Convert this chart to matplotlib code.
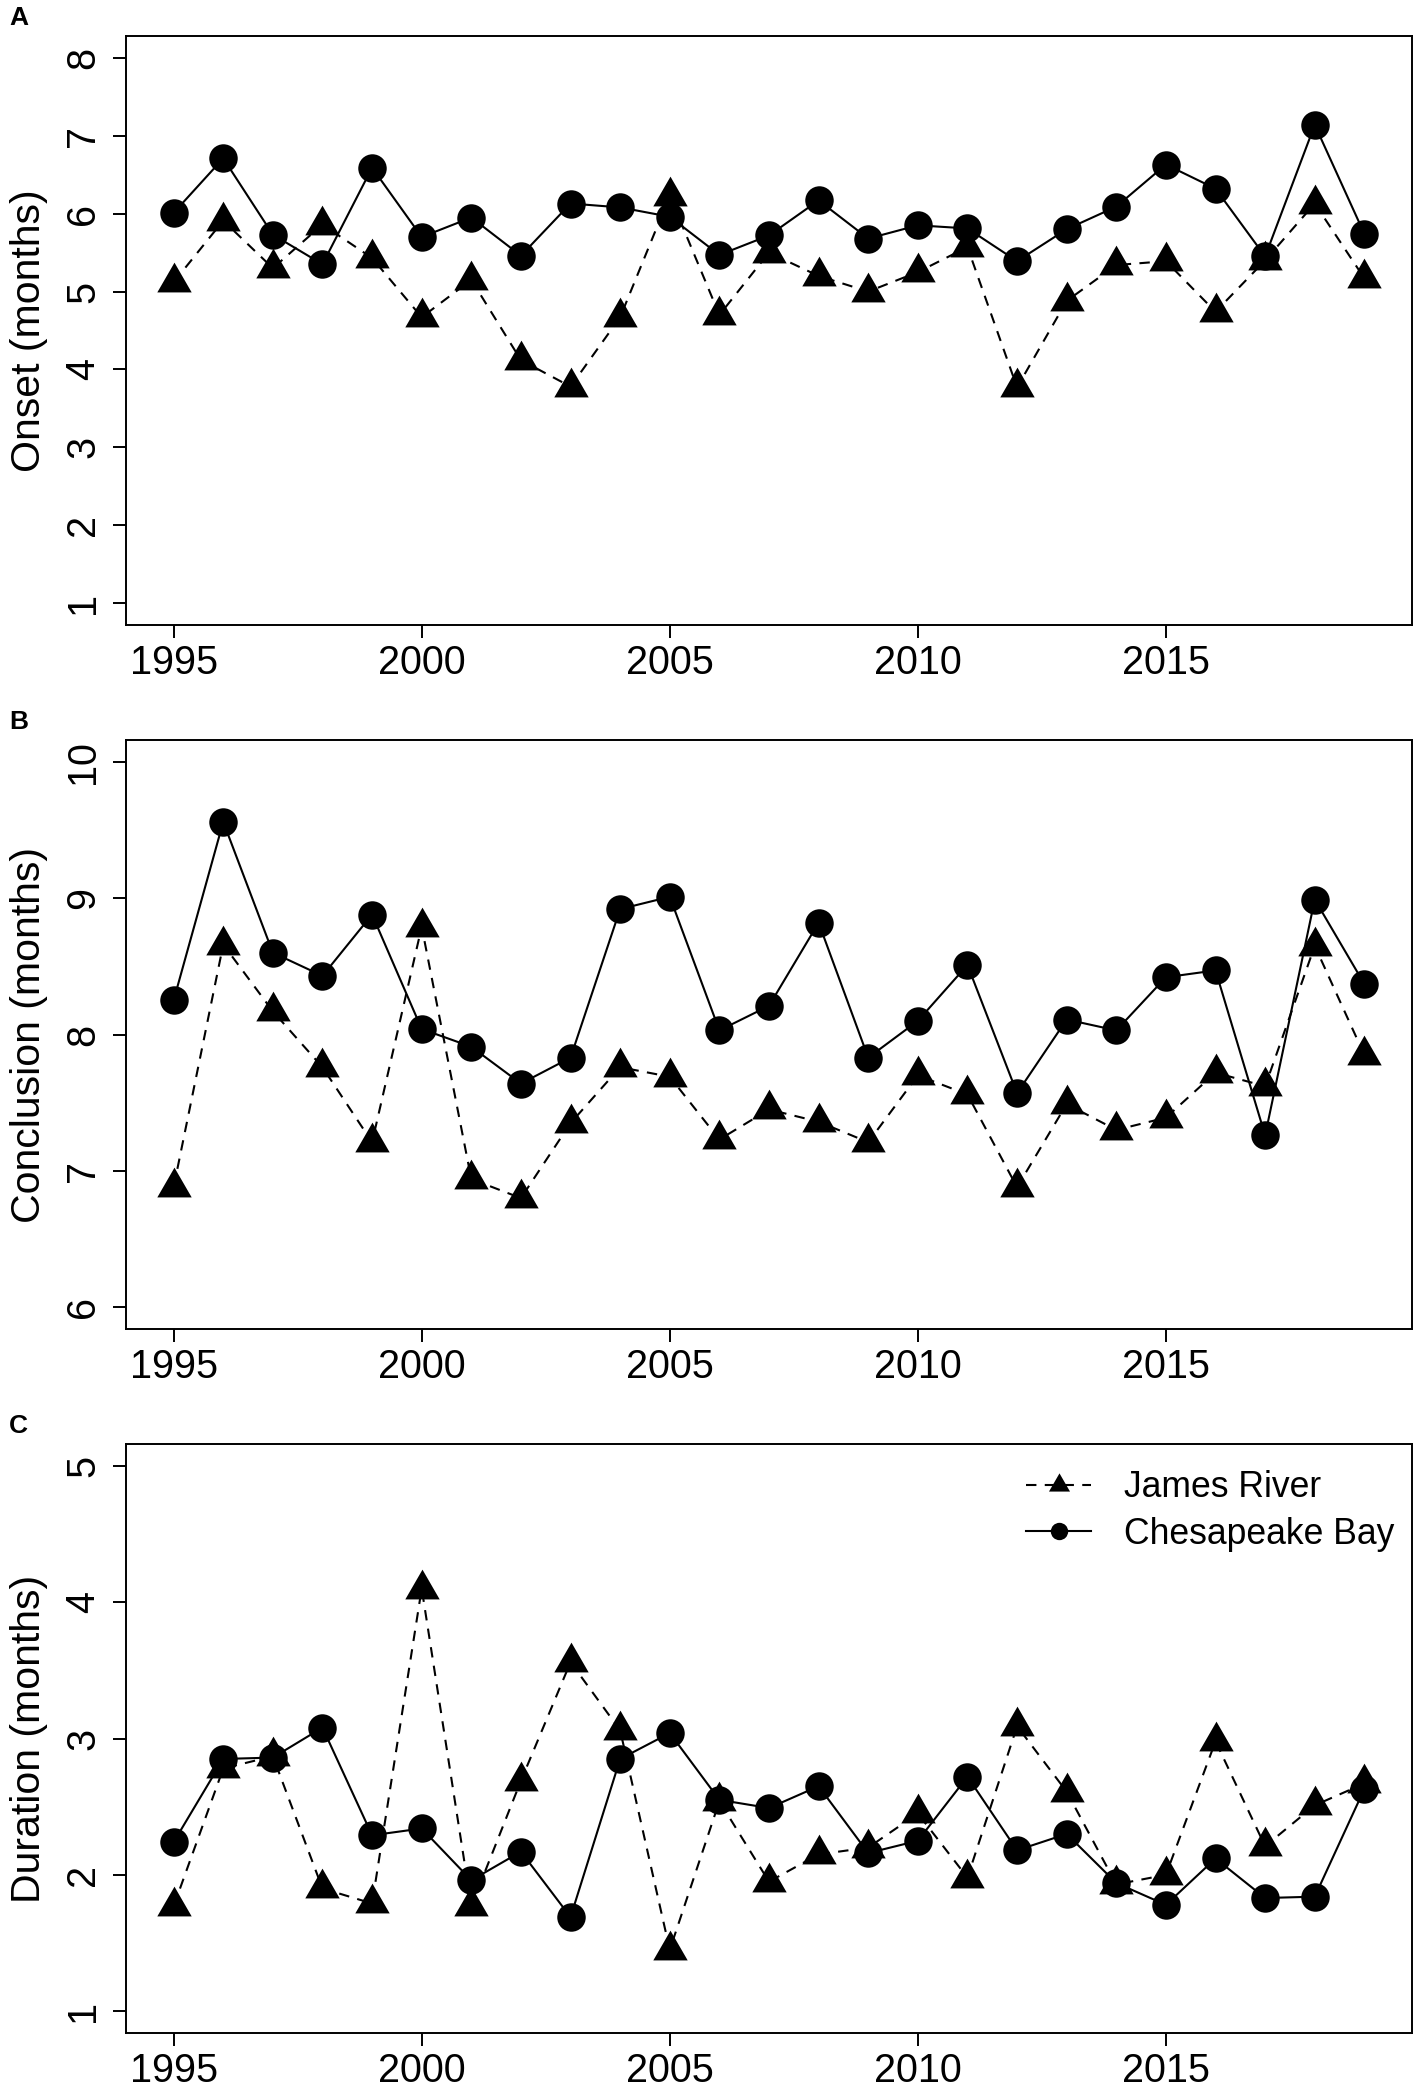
import matplotlib
matplotlib.use("Agg")
import matplotlib.pyplot as plt
import numpy as np

plt.rcParams['font.family'] = ['Liberation Sans', 'DejaVu Sans']

years = list(range(1995, 2020))

onset_james = [5.12, 5.91, 5.30, 5.86, 5.43, 4.67, 5.15, 4.12, 3.78, 4.67, 6.23,
               4.70, 5.50, 5.20, 5.00, 5.25, 5.57, 3.77, 4.88, 5.34, 5.39, 4.74, 5.40, 6.13, 5.17]
onset_bay = [6.01, 6.71, 5.73, 5.35, 6.59, 5.70, 5.95, 5.46, 6.13, 6.08, 5.96,
             5.47, 5.72, 6.17, 5.68, 5.85, 5.81, 5.39, 5.80, 6.09, 6.63, 6.32, 5.45, 7.14, 5.74]

concl_james = [6.88, 8.66, 8.17, 7.76, 7.21, 8.79, 6.94, 6.80, 7.35, 7.76, 7.69,
               7.23, 7.45, 7.36, 7.21, 7.70, 7.56, 6.88, 7.49, 7.30, 7.39, 7.72, 7.62, 8.65, 7.85]
concl_bay = [8.25, 9.56, 8.60, 8.43, 8.88, 8.04, 7.91, 7.64, 7.83, 8.92, 9.01,
             8.03, 8.21, 8.82, 7.83, 8.10, 8.51, 7.57, 8.11, 8.03, 8.42, 8.47, 7.26, 8.99, 8.37]

dur_james = [1.77, 2.78, 2.87, 1.90, 1.79, 4.10, 1.77, 2.69, 3.56, 3.06, 1.45,
             2.54, 1.95, 2.15, 2.20, 2.45, 1.98, 3.09, 2.61, 1.93, 2.00, 2.98, 2.21, 2.51, 2.67]
dur_bay = [2.24, 2.85, 2.86, 3.08, 2.29, 2.34, 1.96, 2.17, 1.69, 2.85, 3.04,
           2.55, 2.49, 2.65, 2.16, 2.25, 2.72, 2.18, 2.30, 1.94, 1.78, 2.12, 1.83, 1.84, 2.63]

xticks = [1995, 2000, 2005, 2010, 2015]
panels = [
    ("A", "Onset (months)", onset_james, onset_bay, [1, 2, 3, 4, 5, 6, 7, 8]),
    ("B", "Conclusion (months)", concl_james, concl_bay, [6, 7, 8, 9, 10]),
    ("C", "Duration (months)", dur_james, dur_bay, [1, 2, 3, 4, 5]),
]
series_names = ["James River", "Chesapeake Bay"]

W, H = 1417, 2091
fig = plt.figure(figsize=(W / 100, H / 100), dpi=100)

# triangle marker with centroid at the data point (as in R pch=17)
tri = [(0, 1), (-np.sqrt(3) / 2, -0.5), (np.sqrt(3) / 2, -0.5), (0, 1)]

box_tops = [36, 740, 1444]
box_h = 589
left_px, right_px = 126, 1412

def expand(lo, hi, f=0.04):
    d = (hi - lo) * f
    return lo - d, hi + d

for i, (letter, ylab, jr, cb, yt) in enumerate(panels):
    top = box_tops[i]
    ax = fig.add_axes([left_px / W, 1 - (top + box_h) / H, (right_px - left_px) / W, box_h / H])
    ax.plot(years, jr, linestyle=(0, (5, 4)), color='black', lw=1.5,
            marker=tri, markersize=28.6, markeredgewidth=0, label=series_names[0])
    ax.plot(years, cb, linestyle='-', color='black', lw=1.5,
            marker='o', markersize=20.5, markeredgewidth=0, label=series_names[1])
    ax.set_xlim(*expand(min(years), max(years)))
    ax.set_ylim(*expand(min(yt), max(yt)))
    ax.set_xticks(xticks)
    ax.set_yticks(yt)
    ax.tick_params(axis='both', length=9.7, width=1.4, labelsize=28.5, direction='out')
    ax.tick_params(axis='x', pad=4)
    ax.tick_params(axis='y', pad=7.5, labelrotation=90)
    for lab in ax.get_yticklabels():
        lab.set_va('center')
    for sp in ax.spines.values():
        sp.set_linewidth(1.4)
    ax.set_ylabel(ylab, fontsize=29.5)
    ax.yaxis.set_label_coords(-(left_px - 48) / (right_px - left_px), 0.5)
    fig.text(9 / W, 1 - (top - 11) / H, letter, fontsize=19, fontweight='bold',
             ha='left', va='baseline')
    if letter == "C":
        jl = plt.Line2D([], [], linestyle=(0, (5, 4)), color='black', lw=1.5,
                        marker=tri, markersize=17.5, markeredgewidth=0)
        cl = plt.Line2D([], [], linestyle='-', color='black', lw=1.5,
                        marker='o', markersize=12.5, markeredgewidth=0)
        ax.legend([jl, cl], series_names, loc='upper left',
                  bbox_to_anchor=((1026 - left_px) / (right_px - left_px), 1 - (1470 - top) / box_h),
                  frameon=False, fontsize=25.6, borderpad=0, borderaxespad=0,
                  handlelength=1.83, handletextpad=0.93, labelspacing=0.33)

fig.savefig("out.png", dpi=100)
